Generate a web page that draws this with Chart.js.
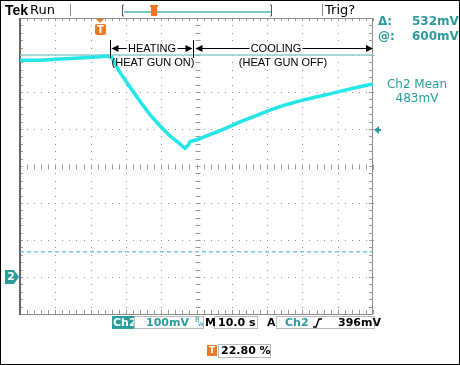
<!DOCTYPE html>
<html>
<head>
<meta charset="utf-8">
<script src="https://cdn.jsdelivr.net/npm/chart.js@4"></script>
<style>
  html, body { margin: 0; padding: 0; background: #fff; }
  #wrap { position: relative; width: 460px; height: 365px; }
</style>
</head>
<body>
<div id="wrap"><canvas id="scope" width="460" height="365"></canvas></div>
<script>
// Trace: time in seconds (10 s/div, 0..100 s), level in mV
const timeSec = [0, 5.7, 11.3, 17, 22.7, 24.9, 26.1, 27.2, 28.3, 31.2, 34, 36.8, 39.7, 42.5, 44.8, 46.7,
  47.6, 48.2, 50.1, 53.8, 58.1, 62.3, 66.6, 70.8, 75.1, 79.3, 83.6, 87.8, 92.1, 96.3, 100];
const ch2mV = [586, 586, 589, 592, 595, 597, 592, 572, 553, 513, 475, 439, 408, 381, 364, 348,
  356, 366, 371, 385, 401, 419, 435, 451, 465, 476, 486, 495, 505, 514, 522];

// Cursor and readout values
const cursorLevels = [600, 68];       // mV
const triggerLevel = 396;             // mV
const triggerPos = 22.8;              // s (22.80 %)
const heatStart = 25.5;               // s
const heatEnd = 49;                   // s

const teal = '#2a9c9c';
const orange = '#ef7a22';
const traceColor = '#22e6e8';

// draw the grid, ticks and frame behind the trace
const graticule = {
  id: 'graticule',
  beforeDatasetsDraw(chart) {
    const { ctx, chartArea: a, scales: { x, y } } = chart;
    ctx.save();
    ctx.fillStyle = '#8c8c8c';
    // dotted divisions
    for (let t = 10; t < 100; t += 10) {
      const px = Math.round(x.getPixelForValue(t));
      for (let v = -100; v <= 700; v += 20) ctx.fillRect(px, Math.round(y.getPixelForValue(v)), 1, 1);
    }
    for (let v = 0; v < 700; v += 100) {
      const py = Math.round(y.getPixelForValue(v));
      for (let t = 0; t <= 100; t += 2) ctx.fillRect(Math.round(x.getPixelForValue(t)), py, 1, 1);
    }
    // ticks on the centre cross and edges
    ctx.strokeStyle = '#999';
    ctx.lineWidth = 1;
    ctx.beginPath();
    const cx = Math.round(x.getPixelForValue(50)) + 0.5;
    const cy = Math.round(y.getPixelForValue(300)) + 0.5;
    for (let t = 0; t <= 100; t += 2) {
      const px = Math.round(x.getPixelForValue(t)) + 0.5;
      ctx.moveTo(px, cy - 2); ctx.lineTo(px, cy + 3);
      ctx.moveTo(px, a.top); ctx.lineTo(px, a.top + 3);
      ctx.moveTo(px, a.bottom); ctx.lineTo(px, a.bottom - 4);
    }
    for (let v = -100; v <= 700; v += 20) {
      const py = Math.round(y.getPixelForValue(v)) + 0.5;
      ctx.moveTo(cx - 2, py); ctx.lineTo(cx + 3, py);
      ctx.moveTo(a.left, py); ctx.lineTo(a.left + 3, py);
      ctx.moveTo(a.right, py); ctx.lineTo(a.right - 4, py);
    }
    ctx.stroke();
    // frame
    ctx.strokeStyle = '#8c8c8c';
    ctx.strokeRect(a.left + 0.5, a.top + 0.5, a.right - a.left - 1, a.bottom - a.top);
    ctx.fillStyle = '#666';
    ctx.fillRect(a.left - 1, a.top, 2, a.bottom - a.top + 1);
    ctx.restore();
  }
};

function arrowHead(ctx, xTip, yTip, dir) {
  ctx.beginPath();
  ctx.moveTo(xTip, yTip);
  ctx.lineTo(xTip - dir * 7, yTip - 3.5);
  ctx.lineTo(xTip - dir * 7, yTip + 3.5);
  ctx.closePath();
  ctx.fill();
}

function boxText(ctx, x0, y0, w, h) {
  ctx.strokeStyle = '#bbb';
  ctx.lineWidth = 1;
  ctx.strokeRect(x0 + 0.5, y0 + 0.5, w, h);
}

// labels, markers and readouts around the screen
const readouts = {
  id: 'readouts',
  afterDraw(chart) {
    const { ctx, chartArea: a, scales: { x, y } } = chart;
    ctx.save();
    // outer border
    ctx.strokeStyle = '#000';
    ctx.lineWidth = 1;
    ctx.strokeRect(0.5, 0.5, 459, 364);

    // header
    ctx.fillStyle = '#000';
    ctx.textBaseline = 'middle';
    ctx.font = 'bold 14px "Liberation Sans"';
    ctx.fillText('Tek', 5, 11);
    ctx.font = '13px "DejaVu Sans"';
    ctx.fillText('Run', 30, 11);
    ctx.fillText('Trig?', 325, 11);
    ctx.fillStyle = '#888';
    ctx.fillRect(70, 4, 1, 12);
    ctx.fillRect(322, 4, 1, 12);
    // record view bracket
    ctx.strokeStyle = '#555';
    ctx.beginPath();
    ctx.moveTo(124, 5); ctx.lineTo(122.5, 5); ctx.lineTo(122.5, 16); ctx.lineTo(124, 16);
    ctx.moveTo(270, 5); ctx.lineTo(271.5, 5); ctx.lineTo(271.5, 16); ctx.lineTo(270, 16);
    ctx.stroke();
    ctx.fillStyle = '#7cc6c6';
    ctx.fillRect(124, 11, 147, 2);
    ctx.fillStyle = orange;
    ctx.fillRect(151, 7, 6, 9);
    ctx.fillRect(150, 5, 8, 2);

    // trigger position marker
    const tx = Math.round(x.getPixelForValue(triggerPos));
    ctx.fillStyle = orange;
    ctx.beginPath();
    ctx.moveTo(tx - 4, a.top + 1); ctx.lineTo(tx + 4, a.top + 1); ctx.lineTo(tx, a.top + 5); ctx.closePath();
    ctx.fill();
    ctx.beginPath();
    ctx.roundRect(tx - 5, a.top + 6, 11, 11, 2);
    ctx.fill();
    ctx.fillStyle = '#fff';
    ctx.font = 'bold 10px "DejaVu Sans"';
    ctx.textAlign = 'center';
    ctx.fillText('T', tx + 0.5, a.top + 12);

    // heating / cooling annotations
    const hx0 = Math.round(x.getPixelForValue(heatStart)) + 0.5;
    const hx1 = Math.round(x.getPixelForValue(heatEnd)) + 0.5;
    const ay = 48.5;
    ctx.strokeStyle = '#000';
    ctx.fillStyle = '#000';
    ctx.lineWidth = 1;
    ctx.beginPath();
    ctx.moveTo(hx0, 40); ctx.lineTo(hx0, 58);
    ctx.moveTo(hx1, 40); ctx.lineTo(hx1, 58);
    ctx.moveTo(hx0 + 6, ay); ctx.lineTo(hx0 + 16, ay);
    ctx.moveTo(hx1 - 16, ay); ctx.lineTo(hx1 - 6, ay);
    ctx.moveTo(hx1 + 8, ay); ctx.lineTo(hx1 + 56, ay);
    ctx.moveTo(a.right - 70, ay); ctx.lineTo(a.right - 4, ay);
    ctx.stroke();
    arrowHead(ctx, hx0 + 1, ay, -1);
    arrowHead(ctx, hx1 - 1, ay, 1);
    arrowHead(ctx, hx1 + 2, ay, -1);
    arrowHead(ctx, a.right, ay, 1);
    ctx.font = '11px "Liberation Sans"';
    ctx.textAlign = 'center';
    ctx.fillText('HEATING', (hx0 + hx1) / 2, ay);
    ctx.fillText('(HEAT GUN ON)', (hx0 + hx1) / 2 + 1, 63);
    ctx.fillText('COOLING', 276, ay);
    ctx.fillText('(HEAT GUN OFF)', 283, 63);

    // channel ground marker
    const gy = Math.round(y.getPixelForValue(0));
    ctx.fillStyle = teal;
    ctx.beginPath();
    ctx.moveTo(5, gy - 7); ctx.lineTo(14, gy - 7); ctx.lineTo(19, gy); ctx.lineTo(14, gy + 7); ctx.lineTo(5, gy + 7);
    ctx.closePath();
    ctx.fill();
    ctx.fillStyle = '#fff';
    ctx.font = 'bold 11px "DejaVu Sans"';
    ctx.fillText('2', 11, gy + 0.5);

    // trigger level arrow on right edge
    const ly = Math.round(y.getPixelForValue(triggerLevel));
    ctx.fillStyle = teal;
    ctx.beginPath();
    ctx.moveTo(a.right + 1, ly); ctx.lineTo(a.right + 6, ly - 4); ctx.lineTo(a.right + 6, ly + 4); ctx.closePath();
    ctx.fill();
    ctx.fillRect(a.right + 5, ly - 1, 3, 2);

    // right-hand readouts
    ctx.textAlign = 'left';
    ctx.font = 'bold 12px "DejaVu Sans"';
    ctx.fillStyle = teal;
    ctx.fillText('\u0394:', 378, 22);
    ctx.fillText('@:', 378, 37);
    ctx.fillText((cursorLevels[0] - cursorLevels[1]) + 'mV', 412, 22);
    ctx.fillText(cursorLevels[0] + 'mV', 412, 37);
    ctx.font = '12px "DejaVu Sans"';
    ctx.textAlign = 'center';
    ctx.fillText('Ch2 Mean', 417, 85);
    ctx.fillText('483mV', 417, 99);

    // bottom readouts
    ctx.textAlign = 'left';
    ctx.fillStyle = teal;
    ctx.fillRect(112, 316, 22, 13);
    ctx.fillStyle = '#fff';
    ctx.font = 'bold 11px "DejaVu Sans"';
    ctx.fillText('Ch2', 113, 323);
    boxText(ctx, 134, 316, 69, 12);
    boxText(ctx, 214, 316, 43, 12);
    boxText(ctx, 276, 316, 98, 12);
    ctx.fillStyle = teal;
    ctx.font = 'bold 11px "DejaVu Sans"';
    ctx.fillText('100mV', 146, 323);
    ctx.fillText('Ch2', 285, 323);
    ctx.font = '7px "DejaVu Sans"';
    ctx.fillText('B', 195, 320);
    ctx.fillText('w', 198, 324);
    ctx.fillStyle = '#000';
    ctx.font = 'bold 11px "DejaVu Sans"';
    ctx.fillText('M', 205, 323);
    ctx.fillText('10.0 s', 218, 323);
    ctx.fillText('A', 267, 323);
    ctx.fillText('396mV', 338, 323);
    ctx.strokeStyle = '#000';
    ctx.lineWidth = 1.5;
    ctx.beginPath();
    ctx.moveTo(313, 327); ctx.lineTo(316, 327); ctx.lineTo(319, 319); ctx.lineTo(322, 319);
    ctx.stroke();

    ctx.fillStyle = orange;
    ctx.fillRect(207, 345, 10, 11);
    ctx.fillStyle = '#fff';
    ctx.font = 'bold 9px "DejaVu Sans"';
    ctx.textAlign = 'center';
    ctx.fillText('T', 212, 351);
    boxText(ctx, 218, 344, 52, 13);
    ctx.fillStyle = '#000';
    ctx.font = 'bold 11px "DejaVu Sans"';
    ctx.textAlign = 'left';
    ctx.fillText(triggerPos.toFixed(2) + ' %', 221, 351);
    ctx.restore();
  }
};

new Chart(document.getElementById('scope'), {
  type: 'line',
  data: {
    datasets: [
      {
        label: 'Ch2',
        data: timeSec.map((t, i) => ({ x: t, y: ch2mV[i] })),
        borderColor: traceColor,
        borderWidth: 3.5,
        pointRadius: 0,
        tension: 0
      },
      {
        label: 'Cursor @',
        data: [{ x: 0, y: cursorLevels[0] }, { x: 100, y: cursorLevels[0] }],
        borderColor: '#8ccfcf',
        borderWidth: 1.5,
        pointRadius: 0
      },
      {
        label: 'Cursor 2',
        data: [{ x: 0, y: cursorLevels[1] }, { x: 100, y: cursorLevels[1] }],
        borderColor: '#3aaeb0',
        borderWidth: 1,
        borderDash: [4, 3],
        pointRadius: 0
      }
    ]
  },
  options: {
    responsive: false,
    animation: false,
    layout: { padding: { left: 20, top: 18, right: 87, bottom: 51 } },
    scales: {
      x: { type: 'linear', min: 0, max: 100, display: false },
      y: { min: -100, max: 700, display: false }
    },
    plugins: { legend: { display: false }, tooltip: { enabled: false } }
  },
  plugins: [graticule, readouts]
});
</script>
</body>
</html>
